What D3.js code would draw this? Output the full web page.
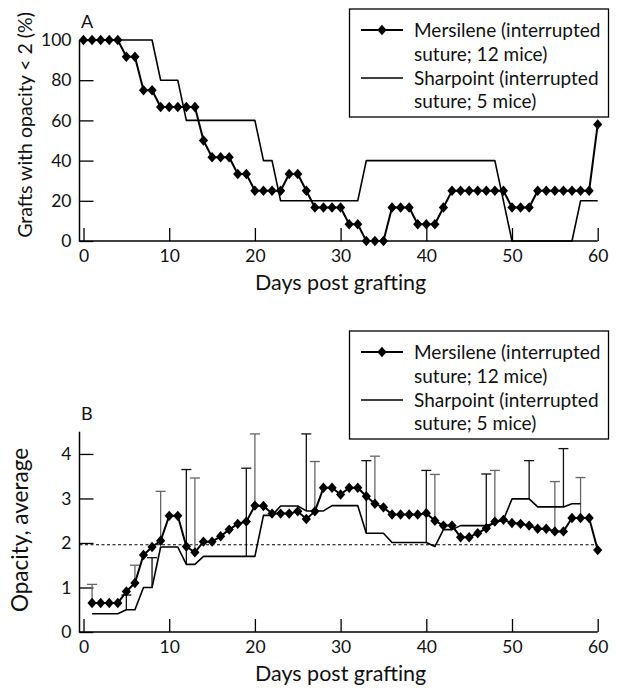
<!DOCTYPE html>
<html>
<head>
<meta charset="utf-8">
<script src="https://cdn.jsdelivr.net/npm/d3@7"></script>
<style>
  body { margin: 0; background: #fff; }
  svg text { font-family: Lato, sans-serif; fill: #111; }
</style>
</head>
<body>
<div id="chart"></div>
<script>
// days 0..60, % of grafts with opacity < 2
const mersileneA = [100, 100, 100, 100, 100, 91.7, 91.7, 75, 75, 66.7, 66.7, 66.7, 66.7, 66.7, 50,
    41.7, 41.7, 41.7, 33.3, 33.3, 25, 25, 25, 25, 33.3, 33.3, 25, 16.7, 16.7, 16.7, 16.7,
    8.3, 8.3, 0, 0, 0, 16.7, 16.7, 16.7, 8.3, 8.3, 8.3, 16.7, 25, 25, 25, 25, 25, 25, 25,
    16.7, 16.7, 16.7, 25, 25, 25, 25, 25, 25, 25, 58];
const sharpointA = [100, 100, 100, 100, 100, 100, 100, 100, 100, 80, 80, 80, 60, 60, 60, 60, 60,
    60, 60, 60, 60, 40, 40, 20, 20, 20, 20, 20, 20, 20, 20, 20, 20, 40, 40, 40, 40, 40, 40,
    40, 40, 40, 40, 40, 40, 40, 40, 40, 40, 20, 0, 0, 0, 0, 0, 0, 0, 0, 20, 20, 20];

// days 1..60 (Mersilene), days 1..58 (Sharpoint), average opacity
const mersileneB = [0.65, 0.65, 0.65, 0.65, 0.91, 1.10, 1.73, 1.91, 2.05, 2.61, 2.61, 1.92, 1.79,
    2.03, 2.03, 2.15, 2.30, 2.43, 2.48, 2.84, 2.83, 2.66, 2.66, 2.66, 2.71, 2.54, 2.71, 3.24,
    3.24, 3.09, 3.24, 3.24, 3.05, 2.88, 2.80, 2.64, 2.64, 2.64, 2.64, 2.67, 2.50, 2.39, 2.39,
    2.13, 2.13, 2.22, 2.33, 2.48, 2.52, 2.45, 2.43, 2.39, 2.32, 2.32, 2.26, 2.26, 2.56, 2.56,
    2.56, 1.84];
const sharpointB = [0.41, 0.41, 0.41, 0.41, 0.50, 0.50, 1.00, 1.00, 1.91, 1.91, 1.91, 1.52, 1.52,
    1.70, 1.70, 1.70, 1.70, 1.70, 1.70, 1.70, 2.62, 2.62, 2.83, 2.83, 2.83, 2.72, 2.72, 2.72,
    2.84, 2.84, 2.84, 2.84, 2.22, 2.22, 2.22, 2.01, 2.01, 2.01, 2.01, 2.01, 1.92, 2.30, 2.30,
    2.39, 2.39, 2.39, 2.39, 2.45, 2.52, 2.99, 2.99, 2.99, 2.81, 2.81, 2.81, 2.81, 2.88, 2.88];

// upper error bars (day, top of bar)
const mersileneErrDays = [1, 6, 9, 13, 20, 27, 34, 41, 48, 55, 58];
const mersileneErrTop = [1.07, 1.50, 3.16, 3.46, 4.45, 3.83, 3.95, 3.54, 3.63, 3.38, 3.47];
const sharpointErrDays = [5, 8, 12, 19, 26, 33, 40, 47, 52, 56];
const sharpointErrTop = [0.83, 1.67, 3.65, 3.68, 4.45, 3.85, 3.63, 3.55, 3.85, 4.12];

const refOpacity = 1.96;

const dayTicks = [0, 10, 20, 30, 40, 50, 60];
const ticksA = [0, 20, 40, 60, 80, 100];
const ticksB = [0, 1, 2, 3, 4];
const legendLines = ["Mersilene (interrupted", "suture; 12 mice)", "Sharpoint (interrupted", "suture; 5 mice)"];
const xTitle = "Days post grafting";

const width = 620, height = 690;
const svg = d3.select("#chart").append("svg")
    .attr("width", width)
    .attr("height", height);

const x = d3.scaleLinear().domain([0, 60]).range([83.5, 597.7]);
const axisX = 79.5;

const diamond = (s, cx, cy) => s.append("path")
    .attr("d", `M${cx},${cy - 5.2}L${cx + 4.6},${cy}L${cx},${cy + 5.2}L${cx - 4.6},${cy}Z`)
    .attr("fill", "#000");

function drawPanel(p) {
    const g = svg.append("g");
    const y = d3.scaleLinear().domain(p.yDomain).range([p.bottom, p.top]);

    // frame
    g.append("line").attr("x1", axisX).attr("x2", axisX).attr("y1", p.top).attr("y2", p.bottom)
        .attr("stroke", "#000").attr("stroke-width", 1.5);
    g.append("line").attr("x1", axisX - 0.7).attr("x2", x(60)).attr("y1", p.bottom).attr("y2", p.bottom)
        .attr("stroke", "#000").attr("stroke-width", 1.5);

    const yAxis = g.append("g")
        .attr("transform", `translate(${axisX},0)`)
        .call(d3.axisLeft(y).tickValues(p.ticks).tickFormat(d3.format("d"))
            .tickSizeInner(-14).tickSizeOuter(0).tickPadding(8));
    const xAxis = g.append("g")
        .attr("transform", `translate(0,${p.bottom})`)
        .call(d3.axisBottom(x).tickValues(dayTicks).tickSizeInner(-13).tickSizeOuter(0).tickPadding(9));
    [yAxis, xAxis].forEach(a => {
        a.attr("font-family", null).attr("font-size", null);
        a.select(".domain").remove();
        a.selectAll(".tick line").attr("stroke", "#000").attr("stroke-width", 1.3);
        a.selectAll(".tick text").style("font-size", "17.5px").attr("fill", "#111");
    });

    // panel letter
    g.append("text").attr("x", 81).attr("y", p.top - 12).text(p.letter).style("font-size", "18px");

    // titles
    g.append("text")
        .attr("x", (x(0) + x(60)) / 2).attr("y", p.bottom + 49)
        .attr("text-anchor", "middle").style("font-size", "21.5px").text(xTitle);
    g.append("text")
        .attr("transform", `translate(${p.yTitleX},${p.yTitleY}) rotate(-90)`)
        .attr("text-anchor", "middle").style("font-size", p.yTitleSize).text(p.yTitle);

    // reference line
    if (p.ref !== undefined) {
        g.append("line").attr("x1", axisX).attr("x2", x(60))
            .attr("y1", y(p.ref)).attr("y2", y(p.ref))
            .attr("stroke", "#000").attr("stroke-width", 1).attr("stroke-dasharray", "3,2.5");
    }

    // error bars
    const errs = [];
    if (p.mersErr) p.mersErr.days.forEach((d, i) =>
        errs.push({ day: d, base: p.mers[d - p.mersStart], top: p.mersErr.top[i], color: "#666" }));
    if (p.sharpErr) p.sharpErr.days.forEach((d, i) =>
        errs.push({ day: d, base: p.sharp[d - p.sharpStart], top: p.sharpErr.top[i], color: "#111" }));
    const eb = g.selectAll("g.err").data(errs).enter().append("g").attr("class", "err");
    eb.append("line")
        .attr("x1", d => x(d.day)).attr("x2", d => x(d.day))
        .attr("y1", d => y(d.base)).attr("y2", d => y(d.top))
        .attr("stroke", d => d.color).attr("stroke-width", 1.3);
    eb.append("line")
        .attr("x1", d => x(d.day) - 5).attr("x2", d => x(d.day) + 5)
        .attr("y1", d => y(d.top)).attr("y2", d => y(d.top))
        .attr("stroke", d => d.color).attr("stroke-width", 1.3);

    // series
    const line = start => d3.line().x((d, i) => x(i + start)).y(d => y(d));
    g.append("path").datum(p.sharp).attr("d", line(p.sharpStart))
        .attr("fill", "none").attr("stroke", "#000").attr("stroke-width", 1.6)
        .attr("stroke-linejoin", "round");
    g.append("path").datum(p.mers).attr("d", line(p.mersStart))
        .attr("fill", "none").attr("stroke", "#000").attr("stroke-width", 2)
        .attr("stroke-linejoin", "round");
    p.mers.forEach((v, i) => diamond(g, x(i + p.mersStart), y(v)));

    // legend
    const lg = g.append("g").attr("transform", `translate(349.5,${p.legendTop})`);
    lg.append("rect").attr("width", 259).attr("height", 108)
        .attr("fill", "#fff").attr("stroke", "#000").attr("stroke-width", 1.3);
    const rowY = [21, 45, 69, 92];
    legendLines.forEach((t, i) => {
        lg.append("text").attr("x", 64.5).attr("y", rowY[i] + 7).style("font-size", "19px").text(t);
    });
    [0, 2].forEach(i => {
        lg.append("line").attr("x1", 11.5).attr("x2", 53.5).attr("y1", rowY[i]).attr("y2", rowY[i])
            .attr("stroke", "#000").attr("stroke-width", i === 0 ? 2 : 1.6);
    });
    diamond(lg, 32.5, rowY[0]);
}

drawPanel({
    letter: "A", top: 40, bottom: 241, yDomain: [0, 100], ticks: ticksA,
    yTitle: "Grafts with opacity < 2 (%)", yTitleX: 32, yTitleY: 125, yTitleSize: "19.5px",
    mers: mersileneA, mersStart: 0, sharp: sharpointA, sharpStart: 0,
    legendTop: 9
});

drawPanel({
    letter: "B", top: 431.7, bottom: 632, yDomain: [0, 4.5], ticks: ticksB,
    yTitle: "Opacity, average", yTitleX: 28, yTitleY: 530, yTitleSize: "22.5px",
    mers: mersileneB, mersStart: 1, sharp: sharpointB, sharpStart: 1,
    mersErr: { days: mersileneErrDays, top: mersileneErrTop },
    sharpErr: { days: sharpointErrDays, top: sharpointErrTop },
    ref: refOpacity, legendTop: 331
});
</script>
</body>
</html>
